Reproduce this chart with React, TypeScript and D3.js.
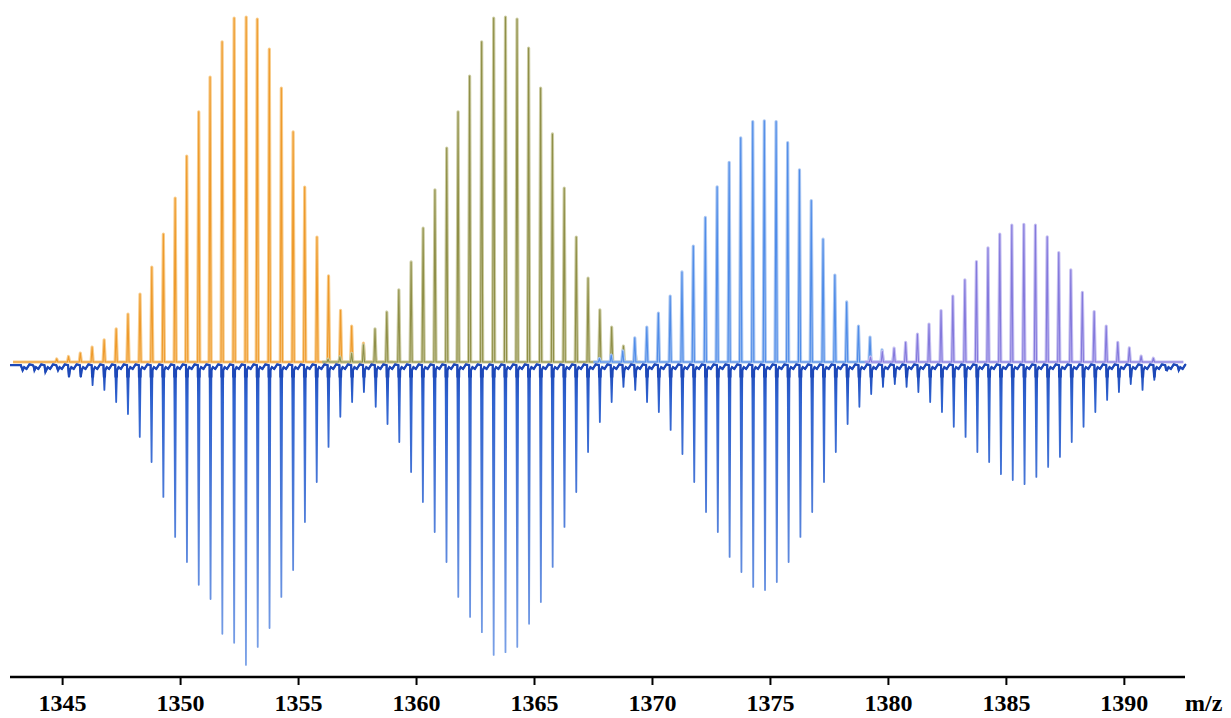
import React from "react";
import * as d3 from "d3";

const W = 1231;
const H = 718;

// Simulated isotope envelopes (relative intensity, %), one per species
const orangeMz = [1344.75, 1345.25, 1345.75, 1346.25, 1346.76, 1347.27, 1347.77, 1348.28, 1348.78, 1349.27, 1349.77, 1350.26, 1350.77, 1351.25, 1351.76, 1352.27, 1352.78, 1353.25, 1353.76, 1354.27, 1354.77, 1355.26, 1355.78, 1356.27, 1356.78, 1357.25, 1357.75, 1358.24, 1358.74];
const orangeInt = [0.9, 1.6, 2.6, 4.3, 6.4, 9.6, 13.9, 19.7, 27.5, 37.1, 47.5, 59.7, 72.5, 82.6, 92.8, 99.7, 100, 99.4, 90.7, 79.4, 66.7, 50.7, 36.2, 25.0, 15.0, 10.4, 5.5, 2.8, 1.0];

const oliveMz = [1356.25, 1356.75, 1357.25, 1357.75, 1358.24, 1358.74, 1359.25, 1359.77, 1360.28, 1360.78, 1361.28, 1361.76, 1362.25, 1362.76, 1363.27, 1363.77, 1364.26, 1364.75, 1365.26, 1365.76, 1366.26, 1366.77, 1367.27, 1367.77, 1368.27, 1368.77, 1369.27];
const oliveInt = [0.8, 1.5, 2.5, 5.0, 9.6, 14.5, 20.9, 29.0, 38.8, 49.9, 62.0, 72.5, 82.9, 92.8, 99.7, 100, 99.4, 91.0, 79.4, 66.1, 50.4, 36.2, 24.3, 15.1, 10.1, 4.6, 2.6];

const blueMz = [1367.75, 1368.25, 1368.74, 1369.25, 1369.76, 1370.25, 1370.75, 1371.25, 1371.73, 1372.24, 1372.74, 1373.25, 1373.74, 1374.25, 1374.74, 1375.24, 1375.73, 1376.23, 1376.73, 1377.23, 1377.73, 1378.23, 1378.73, 1379.22, 1379.73, 1380.23];
const blueInt = [1.0, 2.0, 3.2, 7.0, 10.1, 14.2, 19.1, 26.1, 33.6, 41.9, 50.8, 57.9, 65.0, 69.7, 69.9, 69.7, 63.6, 55.7, 46.8, 35.6, 25.2, 17.4, 10.4, 7.2, 3.5, 2.0];

const purpleMz = [1379.24, 1379.74, 1380.24, 1380.73, 1381.23, 1381.72, 1382.23, 1382.73, 1383.24, 1383.73, 1384.22, 1384.72, 1385.23, 1385.74, 1386.23, 1386.73, 1387.22, 1387.73, 1388.22, 1388.72, 1389.23, 1389.72, 1390.21, 1390.71, 1391.23];
const purpleInt = [1.4, 3.0, 4.0, 5.7, 8.1, 11.0, 14.9, 19.1, 23.8, 29.1, 33.1, 37.1, 39.7, 39.9, 39.7, 36.3, 31.7, 26.7, 20.2, 14.6, 10.4, 5.7, 4.1, 1.7, 1.1];

// Measured spectrum (plotted downward)
const expMz = [1343.27, 1343.77, 1344.27, 1344.77, 1345.27, 1345.77, 1346.27, 1346.77, 1347.27, 1347.77, 1348.27, 1348.77, 1349.27, 1349.77, 1350.27, 1350.77, 1351.27, 1351.77, 1352.27, 1352.77, 1353.27, 1353.77, 1354.27, 1354.77, 1355.27, 1355.77, 1356.27, 1356.77, 1357.27, 1357.77, 1358.27, 1358.77, 1359.27, 1359.77, 1360.27, 1360.77, 1361.27, 1361.77, 1362.27, 1362.77, 1363.27, 1363.77, 1364.27, 1364.77, 1365.27, 1365.77, 1366.27, 1366.77, 1367.27, 1367.77, 1368.27, 1368.77, 1369.27, 1369.77, 1370.27, 1370.77, 1371.27, 1371.77, 1372.27, 1372.77, 1373.27, 1373.77, 1374.27, 1374.77, 1375.27, 1375.77, 1376.27, 1376.77, 1377.27, 1377.77, 1378.27, 1378.77, 1379.27, 1379.77, 1380.27, 1380.77, 1381.27, 1381.77, 1382.27, 1382.77, 1383.27, 1383.77, 1384.27, 1384.77, 1385.27, 1385.77, 1386.27, 1386.77, 1387.27, 1387.77, 1388.27, 1388.77, 1389.27, 1389.77, 1390.27, 1390.77, 1391.27, 1391.77, 1392.27];
const expInt = [1.7, 1.2, 2.9, 1.7, 4.3, 4.3, 6.7, 8.1, 11.6, 15.1, 21.7, 29.0, 39.1, 50.7, 58.0, 64.6, 68.7, 78.8, 81.4, 87.8, 82.6, 77.1, 68.1, 60.3, 46.4, 34.8, 24.6, 15.9, 11.6, 8.7, 13.0, 18.0, 23.2, 31.9, 40.6, 49.3, 58.0, 68.1, 73.9, 78.3, 84.9, 84.1, 82.6, 75.9, 69.6, 59.4, 47.8, 37.7, 26.1, 17.4, 11.6, 7.2, 8.1, 11.6, 14.5, 19.7, 26.7, 34.8, 43.5, 49.3, 56.5, 60.9, 65.2, 66.1, 63.8, 58.0, 50.7, 43.5, 34.8, 26.1, 18.0, 13.0, 9.3, 7.2, 6.4, 7.2, 8.7, 11.6, 14.5, 18.8, 21.7, 26.1, 29.0, 32.5, 34.2, 35.4, 33.3, 30.4, 27.5, 23.2, 18.8, 14.5, 11.0, 8.7, 6.4, 8.1, 5.2, 2.3, 1.4];

const tickValues = [1345, 1350, 1355, 1360, 1365, 1370, 1375, 1380, 1385, 1390];
const axisLabel = "m/z";

const x = d3.scaleLinear().domain([1342.77, 1392.57]).range([10, 1185]);
const y = d3.scaleLinear().domain([-100, 100]).range([707, 17]);
const axisY = 677;

type Pt = [number, number];
const line = d3.line<Pt>().x((d) => x(d[0])).y((d) => y(d[1]));

function envelope(mz: number[], inten: number[], start: number, end: number): Pt[] {
  const hw = 0.045;
  const pts: Pt[] = [[start, 0]];
  mz.forEach((m, i) => {
    pts.push([m - hw, 0], [m, inten[i]], [m + hw, 0]);
  });
  pts.push([end, 0]);
  return pts;
}

function measured(mz: number[], inten: number[]): Pt[] {
  const base = -0.9;
  const pts: Pt[] = [[1342.77, base]];
  mz.forEach((m, i) => {
    pts.push(
      [m - 0.04, base],
      [m, -inten[i]],
      [m + 0.035, -2.4],
      [m + 0.1, -1.5],
      [m + 0.2, -2.0],
      [m + 0.32, -0.7],
    );
  });
  pts.push([1392.57, base]);
  return pts;
}

const series = [
  { mz: orangeMz, v: orangeInt, light: "#f8cd8d", main: "#ee9a2c", start: 1342.9, end: 1359.0 },
  { mz: oliveMz, v: oliveInt, light: "#cdcda4", main: "#8f8f48", start: 1356.0, end: 1369.5 },
  { mz: blueMz, v: blueInt, light: "#abc7f2", main: "#4f8ce8", start: 1367.5, end: 1380.5 },
  { mz: purpleMz, v: purpleInt, light: "#c6c0f2", main: "#8479dc", start: 1379.0, end: 1392.5 },
];

export default function App() {
  const expPath = line(measured(expMz, expInt)) || "";
  return (
    <svg
      width={W}
      height={H}
      viewBox={`0 0 ${W} ${H}`}
      style={{ position: "absolute", left: 0, top: 0, background: "#fff" }}
    >
      <defs>
        <linearGradient id="expGrad" gradientUnits="userSpaceOnUse" x1="0" y1={y(0)} x2="0" y2={y(-90)}>
          <stop offset="0" stopColor="#1a46b6" />
          <stop offset="0.12" stopColor="#2f62cf" />
          <stop offset="1" stopColor="#7ea4e8" />
        </linearGradient>
        <clipPath id="baseBand">
          <rect x={0} y={y(1.5)} width={W} height={y(-4.5) - y(1.5)} />
        </clipPath>
      </defs>

      {series.map((s, i) => {
        const d = line(envelope(s.mz, s.v, s.start, s.end)) || "";
        return (
          <g key={i} fill="none" strokeLinejoin="round">
            <path d={d} stroke={s.light} strokeWidth={3.2} />
            <path d={d} stroke={s.main} strokeWidth={1.1} />
          </g>
        );
      })}

      <path d={expPath} fill="none" stroke="url(#expGrad)" strokeWidth={1.8} strokeLinejoin="round" />
      <path d={expPath} fill="none" stroke="#1d48b8" strokeWidth={2.2} clipPath="url(#baseBand)" />

      <g>
        <line x1={x.range()[0]} x2={x.range()[1]} y1={axisY} y2={axisY} stroke="#000" strokeWidth={2.6} />
        {tickValues.map((t) => (
          <g key={t} transform={`translate(${x(t)},0)`}>
            <line y1={axisY} y2={axisY + 8} stroke="#000" strokeWidth={2} />
            <text
              y={711}
              textAnchor="middle"
              fontFamily="'Liberation Serif', 'Times New Roman', serif"
              fontWeight="bold"
              fontSize={24}
              fill="#000"
            >
              {t}
            </text>
          </g>
        ))}
        <text
          x={1185}
          y={711}
          fontFamily="'Liberation Serif', 'Times New Roman', serif"
          fontWeight="bold"
          fontSize={24}
          fill="#000"
        >
          {axisLabel}
        </text>
      </g>
    </svg>
  );
}
